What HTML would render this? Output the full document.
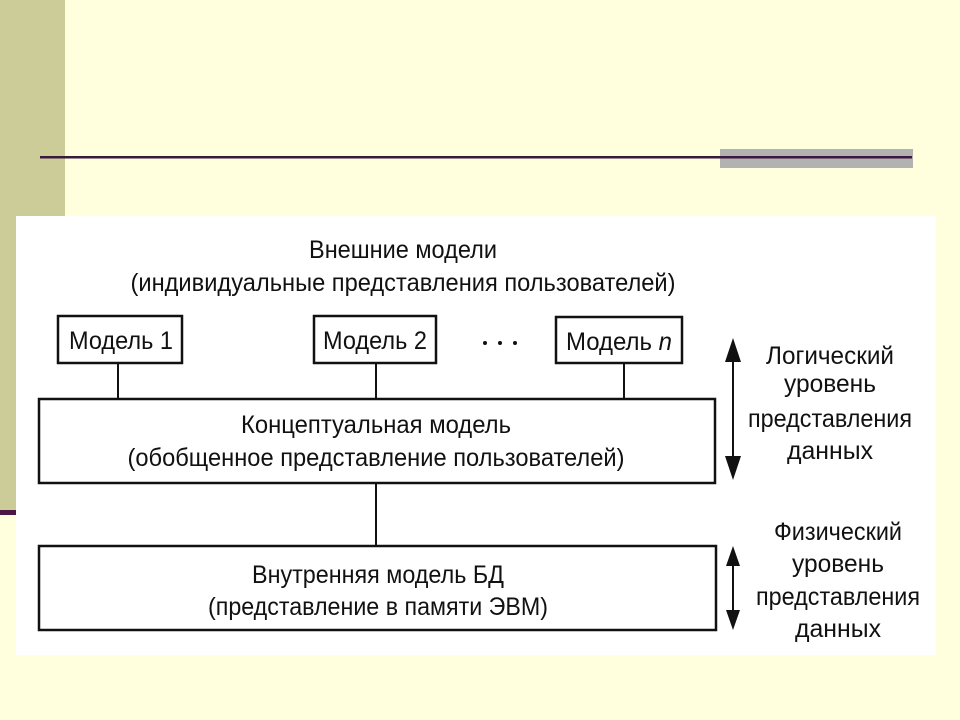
<!DOCTYPE html>
<html><head><meta charset="utf-8"><style>
html,body{margin:0;padding:0;width:960px;height:720px;overflow:hidden;background:#FFFFDD;}
</style></head><body>
<svg width="960" height="720" xmlns="http://www.w3.org/2000/svg" style="position:absolute;left:0;top:0">
<rect x="0" y="0" width="960" height="720" fill="#FFFFDD"/>
<rect x="0" y="0" width="65" height="510" fill="#CCCC99"/>
<rect x="0" y="510" width="16" height="5" fill="#4B1545"/>
<rect x="720" y="149" width="193" height="19" fill="#B2B2B2"/>
<rect x="40" y="156" width="872" height="2.5" fill="#3A1A3A"/>
<rect x="16" y="216" width="920" height="439" fill="#FFFFFF"/>
<g font-family="'Liberation Sans Narrow','Liberation Sans',sans-serif" font-size="25" fill="#111">
<text x="403" y="258" text-anchor="middle" textLength="188" lengthAdjust="spacingAndGlyphs">Внешние модели</text>
<text x="403" y="291" text-anchor="middle" textLength="545" lengthAdjust="spacingAndGlyphs">(индивидуальные представления пользователей)</text>
<text x="121" y="349" text-anchor="middle" textLength="104" lengthAdjust="spacingAndGlyphs">Модель 1</text>
<text x="375" y="349" text-anchor="middle" textLength="104" lengthAdjust="spacingAndGlyphs">Модель 2</text>
<text x="619" y="350" text-anchor="middle" textLength="106" lengthAdjust="spacingAndGlyphs">Модель <tspan font-style="italic">n</tspan></text>
<text x="376" y="433" text-anchor="middle" textLength="270" lengthAdjust="spacingAndGlyphs">Концептуальная модель</text>
<text x="376" y="466" text-anchor="middle" textLength="497" lengthAdjust="spacingAndGlyphs">(обобщенное представление пользователей)</text>
<text x="378" y="583" text-anchor="middle" textLength="252" lengthAdjust="spacingAndGlyphs">Внутренняя модель БД</text>
<text x="378" y="615" text-anchor="middle" textLength="340" lengthAdjust="spacingAndGlyphs">(представление в памяти ЭВМ)</text>
<text x="830" y="364" text-anchor="middle" textLength="128" lengthAdjust="spacingAndGlyphs">Логический</text>
<text x="830" y="392" text-anchor="middle" textLength="92" lengthAdjust="spacingAndGlyphs">уровень</text>
<text x="830" y="427" text-anchor="middle" textLength="164" lengthAdjust="spacingAndGlyphs">представления</text>
<text x="830" y="459" text-anchor="middle" textLength="86" lengthAdjust="spacingAndGlyphs">данных</text>
<text x="838" y="540" text-anchor="middle" textLength="128" lengthAdjust="spacingAndGlyphs">Физический</text>
<text x="838" y="572" text-anchor="middle" textLength="92" lengthAdjust="spacingAndGlyphs">уровень</text>
<text x="838" y="605" text-anchor="middle" textLength="164" lengthAdjust="spacingAndGlyphs">представления</text>
<text x="838" y="637" text-anchor="middle" textLength="86" lengthAdjust="spacingAndGlyphs">данных</text>
</g>
<g fill="#111"><circle cx="485" cy="343" r="2"/><circle cx="500" cy="343" r="2"/><circle cx="515" cy="343" r="2"/></g>
<g fill="none" stroke="#111" stroke-width="2.5">
<rect x="58" y="316" width="124" height="47"/>
<rect x="314" y="316" width="122" height="47"/>
<rect x="556" y="317" width="126" height="46"/>
<rect x="39" y="399" width="676" height="84"/>
<rect x="39" y="546" width="677" height="84"/>
</g>
<g stroke="#111" stroke-width="2">
<line x1="118" y1="363" x2="118" y2="399"/>
<line x1="376" y1="363" x2="376" y2="399"/>
<line x1="624" y1="363" x2="624" y2="399"/>
<line x1="376" y1="483" x2="376" y2="546"/>
<line x1="733" y1="355" x2="733" y2="462"/>
<line x1="733" y1="562" x2="733" y2="614"/>
</g>
<g fill="#111">
<polygon points="733,338 725,362 741,362"/>
<polygon points="733,480 725,456 741,456"/>
<polygon points="733,546 726,566 740,566"/>
<polygon points="733,630 726,610 740,610"/>
</g>
</svg>
</body></html>
